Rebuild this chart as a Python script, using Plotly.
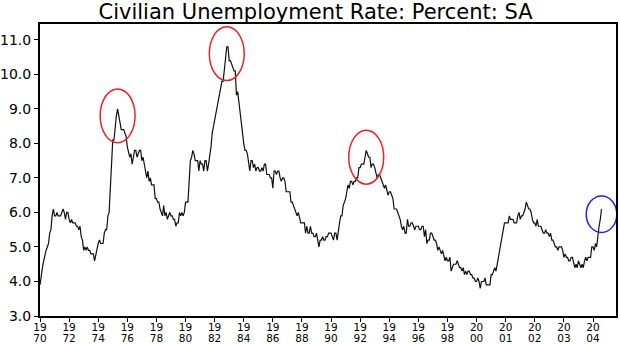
import plotly.graph_objects as go

# Monthly civilian unemployment rate (%, SA), Jan 1970 onward
rates_by_year = {
    1970: [3.9, 4.2, 4.4, 4.6, 4.8, 4.9, 5.0, 5.1, 5.4, 5.5, 5.9, 6.1],
    1971: [5.9, 5.9, 6.0, 5.9, 5.9, 5.9, 6.0, 6.1, 6.0, 5.8, 6.0, 6.0],
    1972: [5.8, 5.7, 5.8, 5.7, 5.7, 5.7, 5.6, 5.6, 5.5, 5.6, 5.3, 5.2],
    1973: [4.9, 5.0, 4.9, 5.0, 4.9, 4.9, 4.8, 4.8, 4.8, 4.6, 4.8, 4.9],
    1974: [5.1, 5.2, 5.1, 5.1, 5.1, 5.4, 5.5, 5.5, 5.9, 6.0, 6.6, 7.2],
    1975: [8.1, 8.1, 8.6, 8.8, 9.0, 8.8, 8.6, 8.4, 8.4, 8.4, 8.3, 8.2],
    1976: [7.9, 7.7, 7.6, 7.7, 7.4, 7.6, 7.8, 7.8, 7.6, 7.7, 7.8, 7.8],
    1977: [7.5, 7.6, 7.4, 7.2, 7.0, 7.2, 6.9, 7.0, 6.8, 6.8, 6.8, 6.4],
    1978: [6.4, 6.3, 6.3, 6.1, 6.0, 5.9, 6.2, 5.9, 6.0, 5.8, 5.9, 6.0],
    1979: [5.9, 5.9, 5.8, 5.8, 5.6, 5.7, 5.7, 6.0, 5.9, 6.0, 5.9, 6.0],
    1980: [6.3, 6.3, 6.3, 6.9, 7.5, 7.6, 7.8, 7.7, 7.5, 7.5, 7.5, 7.2],
    1981: [7.5, 7.4, 7.4, 7.2, 7.5, 7.5, 7.2, 7.4, 7.6, 7.9, 8.3, 8.5],
    1982: [8.6, 8.9, 9.0, 9.3, 9.4, 9.6, 9.8, 9.8, 10.1, 10.4, 10.8, 10.8],
    1983: [10.4, 10.4, 10.3, 10.2, 10.1, 10.1, 9.4, 9.5, 9.2, 8.8, 8.5, 8.3],
    1984: [8.0, 7.8, 7.8, 7.7, 7.4, 7.2, 7.5, 7.5, 7.3, 7.4, 7.2, 7.3],
    1985: [7.3, 7.2, 7.2, 7.3, 7.2, 7.4, 7.4, 7.1, 7.1, 7.1, 7.0, 7.0],
    1986: [6.7, 7.2, 7.2, 7.1, 7.2, 7.2, 7.0, 6.9, 7.0, 7.0, 6.9, 6.6],
    1987: [6.6, 6.6, 6.6, 6.3, 6.3, 6.2, 6.1, 6.0, 5.9, 6.0, 5.8, 5.7],
    1988: [5.7, 5.7, 5.7, 5.4, 5.6, 5.4, 5.4, 5.6, 5.4, 5.4, 5.3, 5.3],
    1989: [5.4, 5.2, 5.0, 5.2, 5.2, 5.3, 5.2, 5.2, 5.3, 5.3, 5.4, 5.4],
    1990: [5.4, 5.3, 5.2, 5.4, 5.4, 5.2, 5.5, 5.7, 5.9, 5.9, 6.2, 6.3],
    1991: [6.4, 6.6, 6.8, 6.7, 6.9, 6.9, 6.8, 6.9, 6.9, 7.0, 7.0, 7.3],
    1992: [7.3, 7.4, 7.4, 7.4, 7.6, 7.8, 7.7, 7.6, 7.6, 7.3, 7.4, 7.4],
    1993: [7.3, 7.1, 7.0, 7.1, 7.1, 7.0, 6.9, 6.8, 6.7, 6.8, 6.6, 6.5],
    1994: [6.6, 6.6, 6.5, 6.4, 6.1, 6.1, 6.1, 6.0, 5.9, 5.8, 5.6, 5.5],
    1995: [5.6, 5.4, 5.4, 5.8, 5.6, 5.6, 5.7, 5.7, 5.6, 5.5, 5.6, 5.6],
    1996: [5.6, 5.5, 5.5, 5.6, 5.6, 5.3, 5.5, 5.1, 5.2, 5.2, 5.4, 5.4],
    1997: [5.3, 5.2, 5.2, 5.1, 4.9, 5.0, 4.9, 4.8, 4.9, 4.7, 4.6, 4.7],
    1998: [4.6, 4.6, 4.7, 4.3, 4.4, 4.5, 4.5, 4.5, 4.6, 4.5, 4.4, 4.4],
    1999: [4.3, 4.4, 4.2, 4.3, 4.2, 4.3, 4.3, 4.2, 4.2, 4.1, 4.1, 4.0],
    2000: [4.0, 4.1, 4.0, 3.8, 4.0, 4.0, 4.0, 4.1, 3.9, 3.9, 3.9, 3.9],
    2001: [4.2, 4.2, 4.3, 4.4, 4.3, 4.5, 4.6, 4.9, 5.0, 5.3, 5.5, 5.7],
    2002: [5.7, 5.7, 5.7, 5.9, 5.8, 5.8, 5.8, 5.7, 5.7, 5.7, 5.9, 6.0],
    2003: [5.8, 5.9, 5.9, 6.0, 6.1, 6.3, 6.2, 6.1, 6.1, 6.0, 5.8, 5.7],
    2004: [5.7, 5.6, 5.8, 5.6, 5.6, 5.6, 5.5, 5.4, 5.4, 5.5, 5.4, 5.4],
    2005: [5.3, 5.4, 5.2, 5.2, 5.1, 5.0, 5.0, 4.9, 5.0, 5.0, 5.0, 4.9],
    2006: [4.7, 4.8, 4.7, 4.7, 4.6, 4.6, 4.7, 4.7, 4.5, 4.4, 4.5, 4.4],
    2007: [4.6, 4.5, 4.4, 4.5, 4.4, 4.6, 4.7, 4.6, 4.7, 4.7, 4.7, 5.0],
    2008: [5.0, 4.9, 5.1, 5.0, 5.4, 5.6, 5.8, 6.1],
}

x_ticks = [1970, 1972, 1974, 1976, 1978, 1980, 1982, 1984, 1986, 1988,
           1990, 1992, 1994, 1996, 1998, 2000, 2002, 2004, 2006, 2008]
x_tick_top = ["19"] * 15 + ["20"] * 5
x_tick_bottom = ["70", "72", "74", "76", "78", "80", "82", "84", "86", "88",
                 "90", "92", "94", "96", "98", "00", "01", "02", "03", "04"]
y_ticks = [3, 4, 5, 6, 7, 8, 9, 10, 11]

# highlighted episodes: (year window, colour)
highlights = [((1974, 1977), "#ee2222"), ((1981, 1985), "#ee2222"),
              ((1991, 1994), "#ee2222"), ((2008, 2009), "#2222ee")]

dates, rates = [], []
for yr, vals in rates_by_year.items():
    for m, v in enumerate(vals):
        dates.append(yr + m / 12.0)
        rates.append(v)

fig = go.Figure()
fig.add_trace(go.Scatter(x=dates, y=rates, mode="lines",
                         line=dict(color="#111111", width=1.2),
                         hoverinfo="skip", showlegend=False))
# invisible trace to carry the second line of x tick labels
fig.add_trace(go.Scatter(x=[dates[0]], y=[rates[0]], xaxis="x2", mode="lines",
                         line=dict(width=0), hoverinfo="skip", showlegend=False))

# ellipses around peak / latest value of each window
for (a, b), col in highlights:
    pts = [(d, r) for d, r in zip(dates, rates) if a <= d < b]
    if col == "#2222ee":
        px, py = pts[-1]
        hx, hy = 1.05, 0.53
        cy = py - 0.15
    else:
        px, py = max(pts, key=lambda p: p[1])
        hx, hy = 1.2, 0.78
        cy = py - 0.2
    fig.add_shape(type="circle", xref="x", yref="y",
                  x0=px - hx, x1=px + hx, y0=cy - hy, y1=cy + hy,
                  line=dict(color=col, width=1.5))

x_range = [1970, 2009.58]
fig.update_layout(
    width=620, height=345,
    margin=dict(l=40, r=4, t=24, b=29),
    paper_bgcolor="white", plot_bgcolor="white",
    font=dict(family="DejaVu Sans", color="black"),
    title=dict(text="Civilian Unemployment Rate: Percent: SA",
               x=0.509, xanchor="center", y=0.967, yanchor="middle",
               font=dict(size=21, color="black")),
    xaxis=dict(range=x_range, tickvals=x_ticks, ticktext=x_tick_top,
               automargin=False, ticklabelstandoff=-4,
               showgrid=False, zeroline=False, showline=True, linecolor="black",
               linewidth=2, mirror=True, ticks="outside", ticklen=4,
               tickcolor="black", tickfont=dict(size=10.5)),
    xaxis2=dict(range=x_range, tickvals=x_ticks, ticktext=x_tick_bottom,
                overlaying="x", side="bottom", anchor="y", automargin=False,
                showgrid=False, zeroline=False, showline=False, ticks="",
                ticklabelstandoff=14, tickfont=dict(size=10.5)),
    yaxis=dict(range=[3.0, 11.46], tickvals=y_ticks, tickformat=".1f",
               automargin=False,
               showgrid=False, zeroline=False, showline=True, linecolor="black",
               linewidth=2, mirror=True, ticks="outside", ticklen=4,
               tickcolor="black", tickfont=dict(size=14)),
)

fig.write_html("out.html")
